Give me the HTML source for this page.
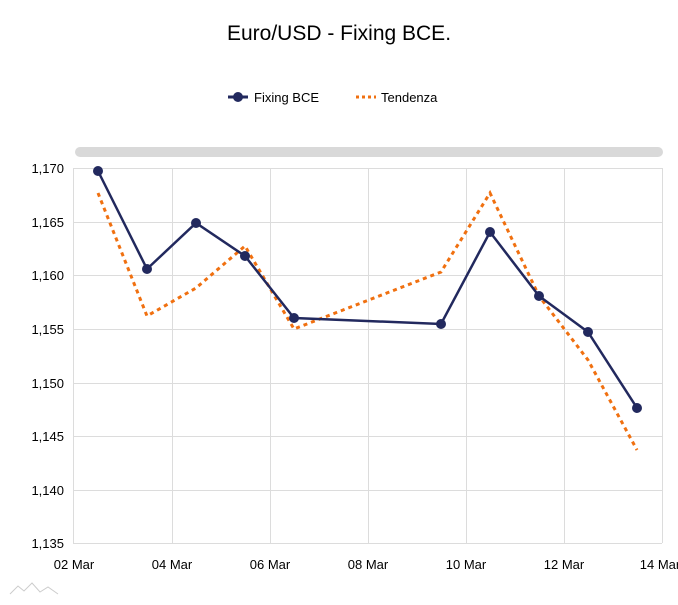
<!DOCTYPE html><html><head><style>body{margin:0;background:#fff;width:678px;height:600px;overflow:hidden}</style></head><body>
<svg width="678" height="600" xmlns="http://www.w3.org/2000/svg" font-family="Liberation Sans, DejaVu Sans, sans-serif">
<text x="339" y="40" font-size="21" text-anchor="middle" fill="#000">Euro/USD - Fixing BCE.</text>
<line x1="228" y1="97" x2="248" y2="97" stroke="#22295e" stroke-width="3"/><circle cx="238" cy="97" r="5" fill="#22295e"/>
<text x="254" y="102" font-size="13" fill="#000">Fixing BCE</text>
<line x1="356" y1="97" x2="376" y2="97" stroke="#f07010" stroke-width="3" stroke-dasharray="3,3"/>
<text x="381" y="102" font-size="13" fill="#000">Tendenza</text>
<rect x="75" y="147" width="588" height="10" rx="5" fill="#d9d9d9"/>
<g stroke="#dcdcdc" stroke-width="1">
<line x1="73" y1="168.5" x2="662" y2="168.5"/><line x1="73" y1="222.5" x2="662" y2="222.5"/><line x1="73" y1="275.5" x2="662" y2="275.5"/><line x1="73" y1="329.5" x2="662" y2="329.5"/><line x1="73" y1="383.5" x2="662" y2="383.5"/><line x1="73" y1="436.5" x2="662" y2="436.5"/><line x1="73" y1="490.5" x2="662" y2="490.5"/><line x1="73" y1="543.5" x2="662" y2="543.5"/>
<line x1="73.5" y1="168" x2="73.5" y2="543"/><line x1="172.5" y1="168" x2="172.5" y2="543"/><line x1="270.5" y1="168" x2="270.5" y2="543"/><line x1="368.5" y1="168" x2="368.5" y2="543"/><line x1="466.5" y1="168" x2="466.5" y2="543"/><line x1="564.5" y1="168" x2="564.5" y2="543"/><line x1="662.5" y1="168" x2="662.5" y2="543"/>
</g>
<g font-size="13" fill="#000" text-anchor="end">
<text x="64" y="173">1,170</text><text x="64" y="227">1,165</text><text x="64" y="280">1,160</text><text x="64" y="334">1,155</text><text x="64" y="388">1,150</text><text x="64" y="441">1,145</text><text x="64" y="495">1,140</text><text x="64" y="548">1,135</text>
</g>
<g font-size="13" fill="#000" text-anchor="middle">
<text x="74" y="569">02 Mar</text><text x="172" y="569">04 Mar</text><text x="270" y="569">06 Mar</text><text x="368" y="569">08 Mar</text><text x="466" y="569">10 Mar</text><text x="564" y="569">12 Mar</text><text x="660" y="569">14 Mar</text>
</g>
<polyline fill="none" stroke="#f07010" stroke-width="3" stroke-dasharray="4,4" points="98,193 147,316 196,288 245,246 294,329 441,272 490,193 539,296 588,360 637,450"/>
<polyline fill="none" stroke="#22295e" stroke-width="2.5" points="98,171 147,269 196,223 245,256 294,318 441,324 490,232 539,296 588,332 637,408"/>
<g fill="#22295e"><circle cx="98" cy="171" r="5"/><circle cx="147" cy="269" r="5"/><circle cx="196" cy="223" r="5"/><circle cx="245" cy="256" r="5"/><circle cx="294" cy="318" r="5"/><circle cx="441" cy="324" r="5"/><circle cx="490" cy="232" r="5"/><circle cx="539" cy="296" r="5"/><circle cx="588" cy="332" r="5"/><circle cx="637" cy="408" r="5"/></g>
<polyline fill="none" stroke="#ccc" stroke-width="1" points="10,594 18,586 24,591 32,583 40,592 48,587 58,594"/>
</svg>
</body></html>
